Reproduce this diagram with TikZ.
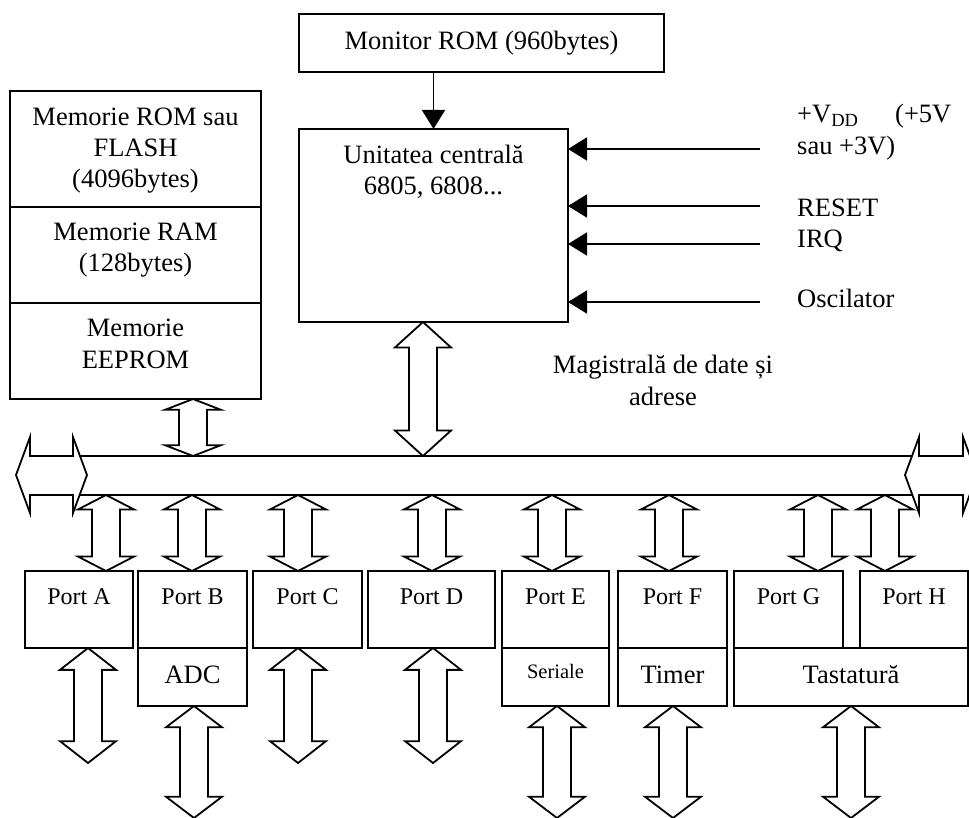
\documentclass[tikz,border=0pt]{standalone}
\usepackage{fontspec}
\setmainfont{Liberation Serif}
\usetikzlibrary{arrows.meta,calc}

% double-headed hollow block arrow, vertical, at abscissa #1 between two points
\newcommand\biarrow[3]{%
  \draw[blockarrow] let \p1=(#2), \p2=(#3), \n1={0.19*(\y1-\y2)} in
    ({#1},\y1) -- ({#1+28},{\y1-\n1}) -- ({#1+14},{\y1-\n1})
    -- ({#1+14},{\y2+\n1}) -- ({#1+28},{\y2+\n1}) -- ({#1},\y2)
    -- ({#1-28},{\y2+\n1}) -- ({#1-14},{\y2+\n1})
    -- ({#1-14},{\y1-\n1}) -- ({#1-28},{\y1-\n1}) -- cycle;}

\tikzset{
  box/.style={draw, line width=1.8pt, rectangle, inner sep=0pt, outer sep=0pt, anchor=north west},
  blockarrow/.style={draw, line width=1.8pt, fill=white, line join=miter},
  inarrow/.style={line width=1.8pt, -{Triangle[length=19pt,width=23pt]}},
  txt/.style={anchor=base, inner sep=0pt, font=\fontsize{26.5}{31.5}\selectfont},
  porttxt/.style={anchor=base, inner sep=0pt, font=\fontsize{24}{28}\selectfont},
  smalltxt/.style={anchor=base, inner sep=0pt, font=\fontsize{20.5}{24}\selectfont},
}

\begin{document}
\begin{tikzpicture}[x=1pt,y=-1pt]
\path[use as bounding box] (0,0) rectangle (969,818);
\clip (0,0) rectangle (969,818);

% ---- upper blocks
\node[box, minimum width=365, minimum height=58] (mon) at (299,14) {};
\node[txt] at (481.5,50) {Monitor ROM (960bytes)};

\node[box, minimum width=269, minimum height=193] (cpu) at (299,129) {};
\node[txt] at (433.5,164) {Unitatea centrală};
\node[txt] at (433.5,195) {6805, 6808...};

\draw[inarrow] (cpu.north |- mon.south) -- (cpu.north);

% ---- memory stack
\node[box, minimum width=251, minimum height=116] (memrom) at (10,91) {};
\node[box, minimum width=251, minimum height=96] (memram) at (10,207) {};
\node[box, minimum width=251, minimum height=96] (memee) at (10,303) {};
\node[txt] at (135.5,126) {Memorie ROM sau};
\node[txt] at (135.5,157) {FLASH};
\node[txt] at (135.5,188) {(4096bytes)};
\node[txt] at (135.5,241) {Memorie RAM};
\node[txt] at (135.5,272) {(128bytes)};
\node[txt] at (135.5,337) {Memorie};
\node[txt] at (135.5,368) {EEPROM};

% ---- control inputs
\coordinate (vdd) at (760,149);
\coordinate (rst) at (760,206);
\coordinate (irq) at (760,244);
\coordinate (osc) at (760,302);
\draw[inarrow] (vdd) -- (vdd -| cpu.east);
\draw[inarrow] (rst) -- (rst -| cpu.east);
\draw[inarrow] (irq) -- (irq -| cpu.east);
\draw[inarrow] (osc) -- (osc -| cpu.east);
\node[txt, anchor=base west] (lvdd) at (797,123) {\makebox[98pt][l]{+V\textsubscript{DD}}(+5V};
\node[txt, anchor=base west] (lsau) at (797,155) {sau +3V)};
\node[txt, anchor=base west] (lrst) at (797,217) {RESET};
\node[txt, anchor=base west] (lirq) at (797,248) {IRQ};
\node[txt, anchor=base west] (losc) at (797,308) {Oscilator};

\node[txt] (lbus1) at (663,373) {Magistrală de date și};
\node[txt] (lbus2) at (663,405) {adrese};

% ---- data/address bus
\coordinate (busT) at (0,456);
\coordinate (busB) at (0,495);
\draw[line width=1.8pt] (73,456) -- (919,456);
\draw[line width=1.8pt] (73,495) -- (919,495);
\draw[blockarrow] (16,475) -- (30,437) -- (30,456) -- (73,456) -- (73,437) -- (87,475)
  -- (73,513) -- (73,495) -- (30,495) -- (30,513) -- cycle;
\draw[blockarrow] (905,475) -- (919,437) -- (919,456) -- (963,456) -- (963,437) -- (977,475)
  -- (963,513) -- (963,495) -- (919,495) -- (919,513) -- cycle;

\biarrow{423}{cpu.south}{busT}
\biarrow{193}{memee.south}{busT}

% ---- ports
\node[box, minimum width=108, minimum height=77] (portA) at (25,571) {};
\node[box, minimum width=109, minimum height=77] (portB) at (138,571) {};
\node[box, minimum width=109, minimum height=58] (adc) at (138,648) {};
\node[box, minimum width=109, minimum height=77] (portC) at (253,571) {};
\node[box, minimum width=127, minimum height=77] (portD) at (368,571) {};
\node[box, minimum width=107, minimum height=77] (portE) at (502,571) {};
\node[box, minimum width=107, minimum height=58] (ser) at (502,648) {};
\node[box, minimum width=109, minimum height=77] (portF) at (618,571) {};
\node[box, minimum width=109, minimum height=58] (tim) at (618,648) {};
\node[box, minimum width=109, minimum height=77] (portG) at (734,571) {};
\node[box, minimum width=108, minimum height=77] (portH) at (860,571) {};
\node[box, minimum width=234, minimum height=58] (tast) at (734,648) {};

\foreach \p/\t in {portA/Port A, portB/Port B, portC/Port C, portD/Port D,
                   portE/Port E, portF/Port F, portG/Port G, portH/Port H}
  \node[porttxt] at ([yshift=-33pt]\p.north) {\t};
\node[txt] at ([yshift=-35pt]adc.north) {ADC};
\node[smalltxt] at ([yshift=-30pt]ser.north) {Seriale};
\node[txt] at ([yshift=-35pt]tim.north) {Timer};
\node[txt] at ([yshift=-35pt]tast.north) {Tastatură};

% bus to ports
\biarrow{106}{busB}{portA.north}
\biarrow{192}{busB}{portB.north}
\biarrow{298}{busB}{portC.north}
\biarrow{432}{busB}{portD.north}
\biarrow{552}{busB}{portE.north}
\biarrow{669}{busB}{portF.north}
\biarrow{818}{busB}{portG.north}
\biarrow{885}{busB}{portH.north}

% ports to the outside
\coordinate (outA) at (88,763);
\coordinate (outB) at (194,818);
\coordinate (outC) at (298,763);
\coordinate (outD) at (433,763);
\coordinate (outE) at (557,818);
\coordinate (outF) at (673,818);
\coordinate (outT) at (851,818);
\biarrow{88}{portA.south}{outA}
\biarrow{194}{adc.south}{outB}
\biarrow{298}{portC.south}{outC}
\biarrow{433}{portD.south}{outD}
\biarrow{557}{ser.south}{outE}
\biarrow{673}{tim.south}{outF}
\biarrow{851}{tast.south}{outT}
\end{tikzpicture}
\end{document}
